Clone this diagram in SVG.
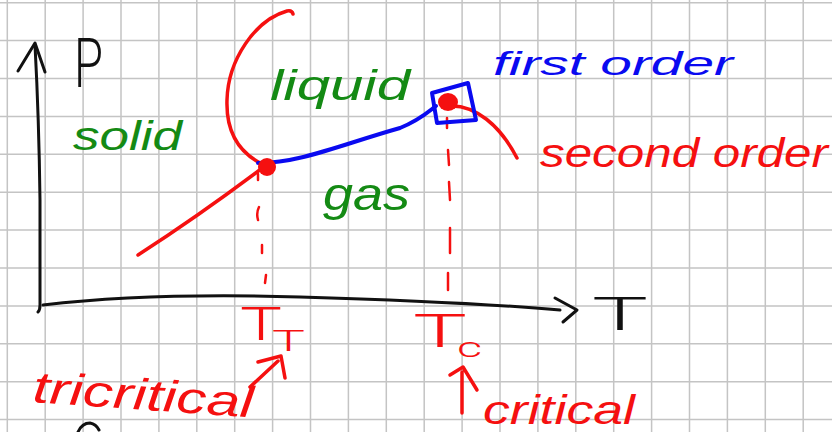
<svg xmlns="http://www.w3.org/2000/svg" width="832" height="432" viewBox="0 0 832 432">
<style>
.grid{stroke:#c4c4c4;stroke-width:1.5;fill:none}
.k{stroke:#111;stroke-width:3;fill:none;stroke-linecap:round;stroke-linejoin:round}
.r{stroke:#f51010;stroke-width:3.5;fill:none;stroke-linecap:round;stroke-linejoin:round}
.rd{stroke:#f51010;stroke-width:2.5;fill:none;stroke-linecap:round}
.b{stroke:#0a0af0;stroke-width:4;fill:none;stroke-linecap:round;stroke-linejoin:round}
text{font-family:"Liberation Sans",Arial,sans-serif}
.tg{fill:#148a14;font-style:italic}
.tr{fill:#f51010;font-style:italic}
.tb{fill:#0a0af0;font-style:italic}
.tk{fill:#111;font-family:Roboto,"Liberation Sans",sans-serif;font-weight:300}
.trs{fill:#f51010;font-family:Roboto,"Liberation Sans",sans-serif;font-weight:300}
</style>
<rect width="832" height="432" fill="#fff"/>
<g id="grid">
<path class="grid" d="M7.3 0V432M45.2 0V432M83.1 0V432M121 0V432M158.9 0V432M196.8 0V432M234.7 0V432M272.6 0V432M310.5 0V432M348.4 0V432M386.3 0V432M424.2 0V432M462.1 0V432M500 0V432M537.9 0V432M575.8 0V432M613.7 0V432M651.6 0V432M689.5 0V432M727.4 0V432M765.3 0V432M803.2 0V432
M0 2.7H832M0 40.6H832M0 78.5H832M0 116.4H832M0 154.3H832M0 192.2H832M0 230.1H832M0 268H832M0 305.9H832M0 343.8H832M0 381.7H832M0 419.6H832"/>
</g>
<g id="axes">
<path class="k" d="M35 45 Q39 120 40 200 L40 305 Q40 310 38 312"/>
<path class="k" d="M18 71 L35 43 L45 72"/>
<path class="k" d="M43 305 C120 296 200 294 300 297 S480 303 560 310"/>
<path class="k" d="M555 298 L577 310 L563 322"/>
<text class="tk" x="74" y="87" font-size="68" textLength="29" lengthAdjust="spacingAndGlyphs">P</text>
<text class="tk" x="592" y="330" font-size="46" textLength="56" lengthAdjust="spacingAndGlyphs">T</text>
<path class="k" d="M78 432 Q82 423 90 423 Q96 424 99 430"/>
</g>
<g id="connectors">
<path id="sublimation" class="r" d="M138 255 Q200 215 265 166"/>
<path id="melting" class="r" d="M262 164 C238 152 226 130 227 100 C228 60 255 20 287 11 Q292 10 293 14"/>
<path id="boiling" class="b" d="M258 163 C300 163 340 145 400 128 C420 120 428 112 436 106"/>
<path id="second-order-line" class="r" d="M450 106 C475 105 500 125 517 158"/>
<path id="tc-dashes" class="rd" d="M447 118V128M448 150L449 165M449 182L450 200M450 228V253M448 273V290"/>
<path id="tt-dashes" class="rd" d="M258 174V180M259 207Q256 213 258 220M262 245V253M266 275L265 283"/>
<path id="tt-arrow" class="r" d="M250 387 L278 361 M258 362 L281 356 L285 378"/>
<path id="tc-arrow" class="r" d="M462 413 L462 372 M450 375 L463 367 L477 390"/>
</g>
<g id="triple-point">
<circle cx="267" cy="167" r="9" fill="#f51010"/>
</g>
<g id="critical-point">
<path class="b" d="M432 93 L468 83 L476 120 L437 123 Z"/>
<ellipse cx="448" cy="102" rx="10" ry="9" fill="#f51010"/>
</g>
<g id="labels">
<text class="tg" x="73" y="150" font-size="40" textLength="109" lengthAdjust="spacingAndGlyphs">solid</text>
<text class="tg" x="270" y="100" font-size="42" textLength="140" lengthAdjust="spacingAndGlyphs">liquid</text>
<text class="tg" x="323" y="210" font-size="46" textLength="87" lengthAdjust="spacingAndGlyphs">gas</text>
<text class="tb" x="493" y="75" font-size="34" textLength="240" lengthAdjust="spacingAndGlyphs">first order</text>
<text class="tr" x="540" y="167" font-size="40" textLength="288" lengthAdjust="spacingAndGlyphs">second order</text>
<text class="tr" x="32" y="402" font-size="44" textLength="221" lengthAdjust="spacingAndGlyphs" transform="rotate(4 32 402)">tricritical</text>
<text class="tr" x="483" y="424" font-size="40" textLength="152" lengthAdjust="spacingAndGlyphs">critical</text>
<text class="trs" x="240" y="340" font-size="47" textLength="42" lengthAdjust="spacingAndGlyphs">T</text>
<text class="trs" x="272" y="351" font-size="29" textLength="33" lengthAdjust="spacingAndGlyphs">T</text>
<text class="trs" x="413" y="347" font-size="47" textLength="54" lengthAdjust="spacingAndGlyphs">T</text>
<text class="trs" x="457" y="357" font-size="27" textLength="25" lengthAdjust="spacingAndGlyphs">c</text>
</g>
</svg>
